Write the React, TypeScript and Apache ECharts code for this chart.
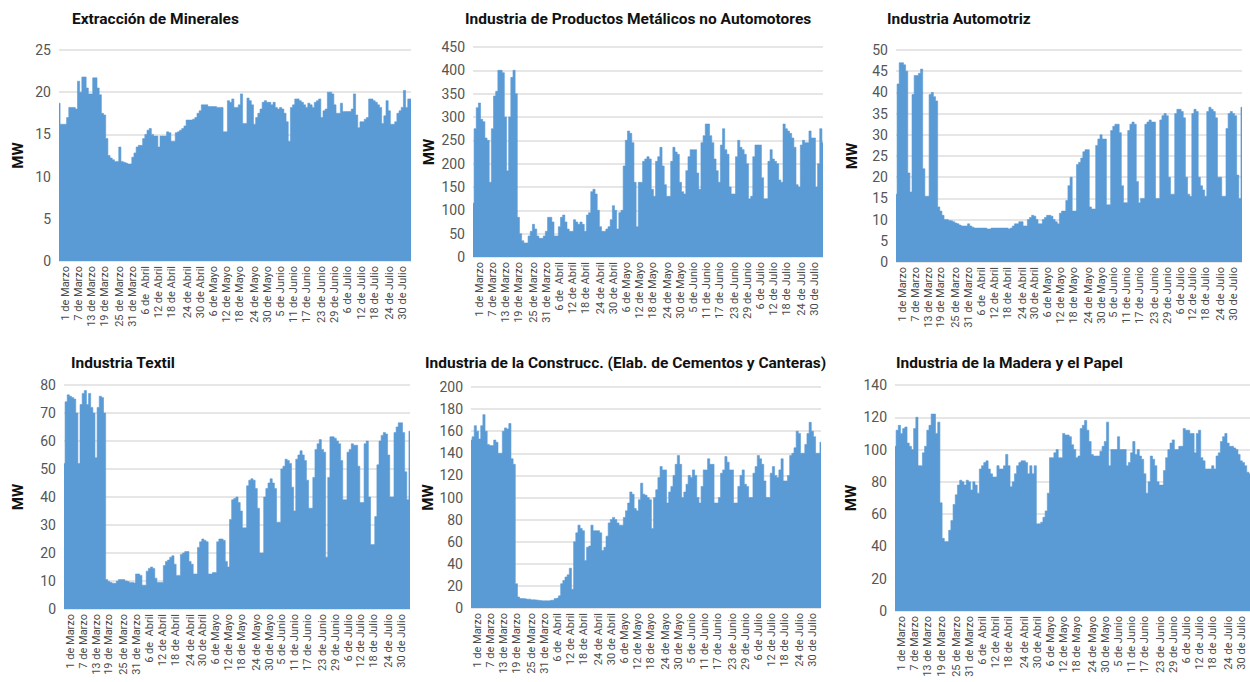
import React, { useEffect, useRef } from "react";
import * as echarts from "echarts";

const tickLabels = [
  "1 de Marzo", "7 de Marzo", "13 de Marzo", "19 de Marzo", "25 de Marzo", "31 de Marzo",
  "6 de  Abril", "12 de Abril", "18 de Abril", "24 de Abril", "30 de Abril",
  "6 de Mayo", "12 de Mayo", "18 de Mayo", "24 de Mayo", "30 de Mayo",
  "5 de Junio", "11 de Junio", "17 de Junio", "23 de Junio", "29 de Junio",
  "6 de Julio", "12 de Julio", "18 de Julio", "24 de Julio", "30 de Julio",
];

const extraccion = [
  18.7,16.2,16.2,16.2,17,18.2,18.2,18.2,18,21.3,
  20,21.8,21.8,20.5,19.8,19.8,21.7,21.7,20.5,19.7,
  17.5,17.3,14.5,12.5,12.2,12,11.8,11.8,13.5,11.8,
  11.7,11.6,11.5,11.5,12.3,12.8,13.5,13.7,13.7,14.5,
  15,15.5,15.7,15,14.8,14.8,13.5,14.8,14.8,14.8,
  15.3,15.2,14.2,14.2,15.2,15.3,15.5,15.7,16,16.7,
  16.7,16.7,16.8,17,17.5,17.8,18.5,18.5,18.5,18.3,
  18.3,18.3,18.3,18.2,18.2,18.2,15.3,15.3,19,18.8,
  19.2,18.2,18.2,18.5,19.8,16.3,16.3,19.3,19,18.5,
  16.2,17,17.5,18,18.8,19,18.8,18.8,18.5,18.8,
  18.2,18,18.2,18,17.5,16.5,14.2,18.2,18.5,19.2,
  19.2,19,18.8,18.5,18.2,18.7,18.5,18.2,18.8,19,
  19.2,17,17.8,18,20,20,19.8,18.5,17.5,17.5,
  18.7,17.7,17.7,17.7,17.7,18,19.8,17.3,15.8,16.5,
  16.5,16.8,17,19.2,19.2,19,18.8,18.5,18.2,16.3,
  17.2,19,17.8,16.2,16.2,16.5,17.5,17.8,18.2,20.2,
  18.2,19.2,19.2,
];

const metalicos = [
  115,275,320,330,295,290,255,250,160,275,
  345,355,400,400,395,300,185,300,385,400,
  350,85,50,35,30,30,45,55,70,60,
  45,40,40,45,55,85,85,75,45,45,
  65,85,90,75,60,55,55,80,75,70,
  75,70,55,90,95,140,145,135,100,65,
  55,55,60,65,80,110,100,60,95,100,
  195,250,270,265,245,160,65,160,160,205,
  210,215,210,145,130,205,215,235,195,155,
  130,130,205,235,225,220,160,140,135,185,
  215,230,230,230,180,145,245,260,285,285,
  260,245,210,185,160,240,275,230,220,150,
  135,135,215,250,235,230,220,200,125,130,
  215,240,240,240,170,125,125,205,230,210,
  205,200,165,160,285,275,270,265,255,235,
  155,150,240,250,245,245,270,255,255,150,
  200,275,245,
];

const automotriz = [
  16,42,47,47,46.5,45,21,16.5,39.5,44,
  44,44.5,45.5,22,15.5,15.5,39.5,40,39,38,
  13,12,11,10,10,9.8,9.7,9.5,9.2,9,
  8.7,8.5,8.5,8.5,9,8.5,8.2,8,8,8,
  8,8,8,7.8,7.8,8,8,8,8,8,
  8,8,8,7.8,8,8.5,9,9,9.5,9.5,
  8.5,8.5,10,10.5,11,10.8,10,9,9,10,
  10.5,11,11,10.8,10,9.5,9,11.5,12,12,
  14.5,18,20,12,12,23,23.5,24.5,26,26.5,
  26.5,13,12.5,12.5,27.5,29,30,29,29,13.5,
  13.5,31,32,32.5,32.5,30.5,18,14,14,31,
  32.5,33,32.5,19,14,15,15,32.5,33,33.5,
  33,33,15,15,33.5,34.5,35,34.5,20,16,
  16,35,36,36,35.5,34,20,16,15.5,35,
  36,35.5,20,18,17,15.5,35.5,36.5,36,35.5,
  34,20,20,15.5,15.5,31.5,35,35.5,35,34.5,
  20.5,15,36.5,
];

const textil = [
  52,74,76.5,76,75.5,75,70,52,73,77,
  78,73,77,72,70,54,72,76,75.5,70,
  10.5,9.8,9.5,9.2,9.2,10,10.5,10.5,10.5,10,
  9.8,9.5,9.5,9.3,12.5,12.5,12,8.5,8.5,13.5,
  14.5,15,14.5,11,9.5,9.5,9.5,15.5,17,17.5,
  18.5,19,16,12,12,19.5,20,20.5,20.5,17,
  16,12.5,12.5,22,24,25,24.5,24,12.5,12.5,
  13,13,24,25,25,24.5,17,15,32,39,
  39.5,40,38,35,29,29,44,46,46.5,46,
  43,36,20,20,40,43,45,46.5,45,43,
  31,31,50,51,53.5,53,52,43.5,35,53.5,
  55,56.5,55,53,46,36,36,47,57,59,
  60.5,57,56,18.5,47,61.5,61.5,61,60,59,
  53,39,39,56,57,59,58.5,58.5,51,38,
  38,59,60,40,23,23,33,51.5,60,62,
  63,62.5,55,40,40,63,65,66.5,66.5,63,
  49,39,63.5,
];

const construccion = [
  152,155,165,160,153,165,175,160,148,147,
  147,152,150,140,140,160,163,162,167,135,
  130,22,10,8.5,8.5,8.3,8,8,7.5,7.5,
  7.3,7,6.8,6.5,6.5,6.5,6.5,7,7,8.5,
  9,11,22,25,28,30,36,17,60,68,
  75,72,70,43,55,56,75,70,70,70,
  68,52,55,65,77,80,82,80,77,75,
  75,82,88,95,105,103,90,88,98,113,
  103,102,100,98,72,100,107,118,128,125,
  125,95,105,110,120,130,138,130,100,105,
  112,120,118,125,120,100,95,110,125,125,
  135,130,130,95,95,100,122,125,137,132,
  125,125,95,95,110,120,125,112,110,100,
  100,122,128,138,135,130,115,100,100,122,
  128,120,118,125,135,115,115,120,138,140,
  145,160,158,140,140,148,158,168,160,155,
  140,140,150,
];

const madera = [
  102,112,115,110,113,114,104,102,100,113,
  120,90,90,98,102,112,115,122,122,110,
  117,67,45,43,43,50,56,66,72,78,
  81,80,78,81,80,75,80,78,73,88,
  90,92,93,88,85,83,83,90,88,88,
  90,97,90,77,80,85,90,92,93,93,
  92,85,90,85,90,54,54,55,58,62,
  73,95,95,98,100,95,95,110,109,109,
  108,103,100,95,96,113,115,118,112,105,
  97,96,96,96,99,102,105,117,90,100,
  100,100,108,100,100,100,90,92,98,105,
  97,100,96,94,85,73,80,96,94,90,
  80,78,78,87,95,100,104,106,100,100,
  102,102,113,112,112,110,110,98,110,112,
  95,93,88,88,88,90,88,96,98,105,
  108,110,104,102,102,101,100,97,93,92,
  90,86,85,
];

const titles = [
  "Extracción de Minerales",
  "Industria de Productos Metálicos no Automotores",
  "Industria Automotriz",
  "Industria Textil",
  "Industria de la Construcc. (Elab. de Cementos y Canteras)",
  "Industria de la Madera y el Papel",
];

const seriesData = [extraccion, metalicos, automotriz, textil, construccion, madera];
const yMax = [25, 450, 50, 80, 200, 140];
const yStep = [5, 50, 5, 10, 20, 20];

const categories = extraccion.map((_, i) => `p${i}`);

const layout = [
  { left: 59, top: 50, width: 352, height: 211, tLeft: 72, tTop: 11, gap: 34 },
  { left: 473, top: 47, width: 350, height: 210, tLeft: 465, tTop: 11, gap: 37 },
  { left: 896, top: 50, width: 346, height: 212, tLeft: 887, tTop: 11, gap: 37 },
  { left: 64, top: 385, width: 346, height: 224, tLeft: 71, tTop: 355, gap: 39 },
  { left: 471, top: 387, width: 350, height: 221, tLeft: 425, tTop: 355, gap: 35 },
  { left: 895, top: 385, width: 355, height: 226, tLeft: 896, tTop: 355, gap: 37 },
];

const FONT = "Roboto, 'Noto Sans', sans-serif";

export default function App() {
  const ref = useRef<HTMLDivElement>(null);
  useEffect(() => {
    if (!ref.current) return;
    const chart = echarts.init(ref.current, undefined, { renderer: "svg" });
    const labelAt = new Map<number, string>();
    tickLabels.forEach((t, k) => labelAt.set(Math.round(2.7 + 6.2 * k), t));

    const option: any = {
      animation: false,
      backgroundColor: "#ffffff",
      title: titles.map((t, i) => ({
        text: t,
        left: layout[i].tLeft,
        top: layout[i].tTop,
        padding: 0,
        textStyle: { fontFamily: FONT, fontSize: 15.5, fontWeight: "bold", color: "#111" },
      })),
      grid: layout.map((l) => ({ left: l.left, top: l.top, width: l.width, height: l.height })),
      xAxis: layout.map((_, i) => ({
        type: "category",
        gridIndex: i,
        data: categories,
        boundaryGap: false,
        axisLine: { show: false },
        axisTick: { show: false },
        splitLine: { show: false },
        axisLabel: {
          interval: (idx: number) => labelAt.has(idx),
          formatter: (_v: string, idx: number) => labelAt.get(idx) ?? "",
          rotate: 90,
          margin: 5,
          fontFamily: FONT,
          fontSize: 11,
          color: "#4a4a4a",
        },
      })),
      yAxis: layout.map((l, i) => ({
        type: "value",
        gridIndex: i,
        min: 0,
        max: yMax[i],
        interval: yStep[i],
        name: "MW",
        nameLocation: "middle",
        nameGap: l.gap,
        nameTextStyle: { fontFamily: FONT, fontSize: 15, fontWeight: "bold", color: "#111" },
        axisLine: { show: false },
        axisTick: { show: false },
        axisLabel: { fontFamily: FONT, fontSize: 14, color: "#555", margin: 8 },
        splitLine: { show: true, lineStyle: { color: "#e6e6e6", width: 2 } },
      })),
      series: seriesData.map((d, i) => ({
        type: "line",
        xAxisIndex: i,
        yAxisIndex: i,
        data: d,
        step: "middle",
        symbol: "none",
        lineStyle: { width: 0.6, color: "#5b9bd5" },
        areaStyle: { color: "#5b9bd5", opacity: 1 },
        itemStyle: { color: "#5b9bd5" },
      })),
    };
    chart.setOption(option);
    return () => chart.dispose();
  }, []);
  return (
    <div
      ref={ref}
      style={{ position: "absolute", left: 0, top: 0, width: 1250, height: 682, background: "#fff" }}
    />
  );
}
